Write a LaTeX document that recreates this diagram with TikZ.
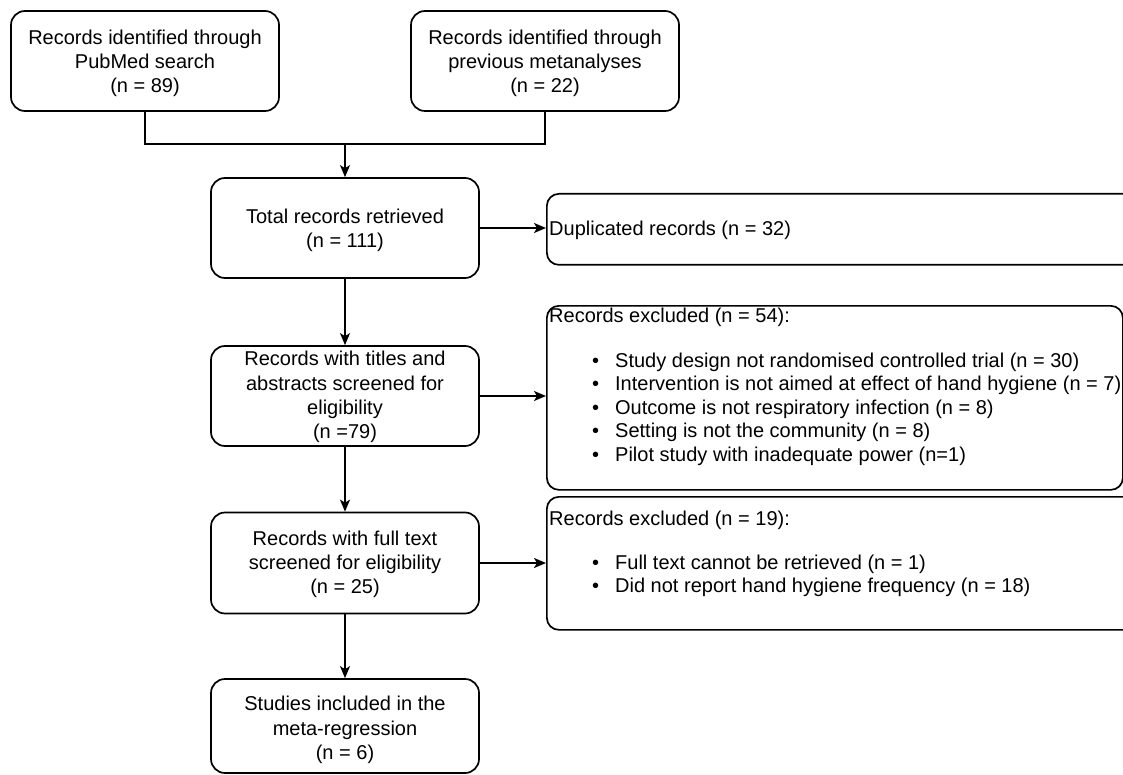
\documentclass[tikz,border=0pt]{standalone}
\usepackage{fontspec}
\setmainfont{Liberation Sans}
\usetikzlibrary{arrows.meta}
\newcommand\myfs{\fontsize{20}{24.3}\selectfont}
\newcommand\myrfs{\fontsize{20}{23.5}\selectfont}
\begin{document}
\begin{tikzpicture}[x=1pt,y=-1pt,
  box/.style={draw, line width=1.7pt, rounded corners=14pt, minimum width=268pt, inner sep=0pt},
  ctext/.style={inner sep=0pt, align=center, font=\myfs},
  rbox/.style={draw, line width=1.7pt, rounded corners=12pt, anchor=north west, inner sep=0pt},
  txt/.style={inner sep=0pt, font=\myrfs, align=left},
  conn/.style={line width=1.7pt},
  arr/.style={line width=1.7pt, -{Stealth[length=12pt,width=10pt,inset=3pt]}}]
\useasboundingbox (0,0) rectangle (1123,775);
\clip (0,0) rectangle (1123,775);
% left column
\node[box, minimum height=100pt] (A) at (145,61) {};
\node[ctext] (At) at ([yshift=-2.5pt]A.center) {Records identified through\\PubMed search\\(n = 89)};
\node[box, minimum height=100pt] (B) at (545,61) {};
\node[ctext] (Bt) at ([yshift=-2.5pt]B.center) {Records identified through\\previous metanalyses\\(n = 22)};
\node[box, minimum height=100pt] (T) at (345,228) {};
\node[ctext] (Tt) at ([yshift=-2.5pt]T.center) {Total records retrieved\\(n = 111)};
\node[box, minimum height=100pt] (S) at (345,396) {};
\node[ctext] (St) at ([yshift=-1pt]S.center) {Records with titles and\\abstracts screened for\\eligibility\\(n =79)};
\node[box, minimum height=101pt] (F) at (345,563) {};
\node[ctext] (Ft) at ([yshift=-1.5pt]F.center) {Records with full text\\screened for eligibility\\(n = 25)};
\node[box, minimum height=94pt] (I) at (345,726) {};
\node[ctext] (It) at ([yshift=-4pt]I.center) {Studies included in the\\meta-regression\\(n = 6)};
% right column
\node[rbox, minimum width=600pt, minimum height=71pt] (D) at (546,193) {};
\node[txt, anchor=west] (Dt) at (549,230) {Duplicated records (n = 32)};
\node[rbox, minimum width=576pt, minimum height=184pt] (E) at (546,305) {};
\node[txt, anchor=north west] (Et) at (549,307.5) {Records excluded (n = 54):\\[21.5pt]
\hspace*{43pt}\makebox[23pt][l]{•}Study design not randomised controlled trial (n = 30)\\
\hspace*{43pt}\makebox[23pt][l]{•}Intervention is not aimed at effect of hand hygiene (n = 7)\\
\hspace*{43pt}\makebox[23pt][l]{•}Outcome is not respiratory infection (n = 8)\\
\hspace*{43pt}\makebox[23pt][l]{•}Setting is not the community (n = 8)\\
\hspace*{43pt}\makebox[23pt][l]{•}Pilot study with inadequate power (n=1)};
\node[rbox, minimum width=600pt, minimum height=133pt] (G) at (546,496) {};
\node[txt, anchor=north west] (Gt) at (549,510.5) {Records excluded (n = 19):\\[20.5pt]
\hspace*{43pt}\makebox[23pt][l]{•}Full text cannot be retrieved (n = 1)\\
\hspace*{43pt}\makebox[23pt][l]{•}Did not report hand hygiene frequency (n = 18)};
% connectors
\coordinate (J) at (345,144);
\draw[conn] (A.south) |- (J);
\draw[conn] (B.south) |- (J);
\draw[arr] (J) -- (T.north);
\draw[arr] (T.east) -- (T.east -| D.west);
\draw[arr] (T) -- (S);
\draw[arr] (S.east) -- (S.east -| E.west);
\draw[arr] (S) -- (F);
\draw[arr] (F.east) -- (F.east -| G.west);
\draw[arr] (F) -- (I);
\end{tikzpicture}
\end{document}
